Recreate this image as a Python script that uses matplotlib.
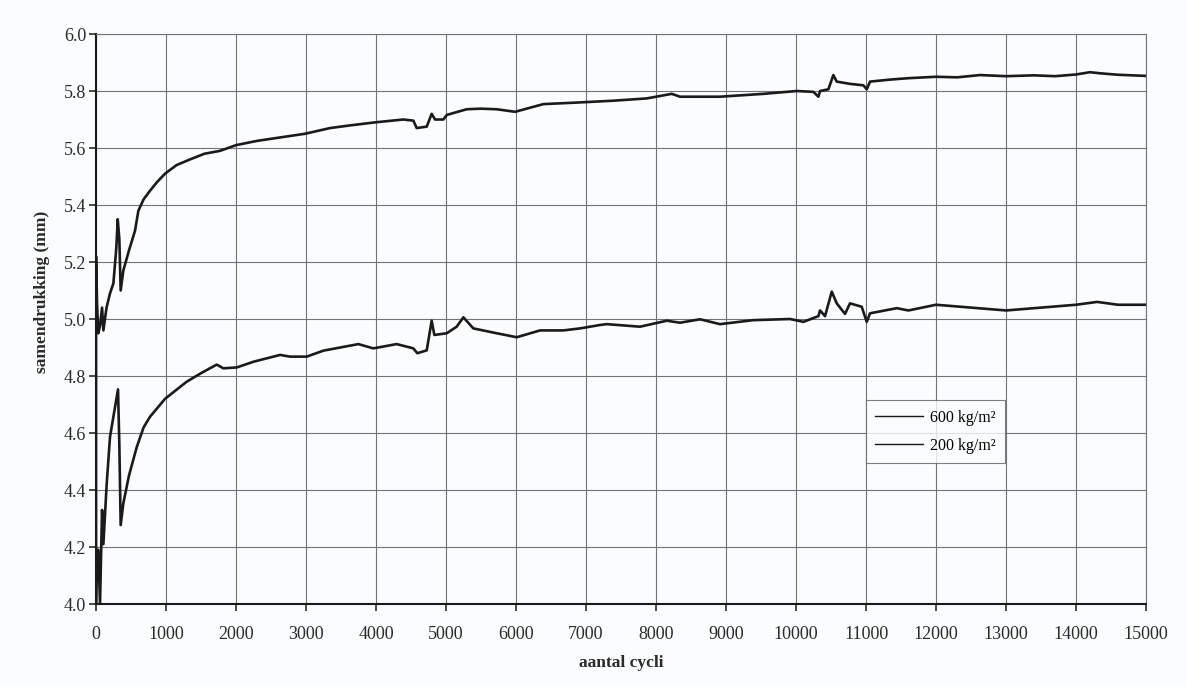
import matplotlib.pyplot as plt

plt.rcParams['font.family'] = ['Liberation Serif', 'DejaVu Serif']

# 600 kg/m2 series
cycles_600 = [0, 0, 15, 33, 60, 86, 105, 150, 200, 248, 290, 310, 333, 352, 390, 470, 557, 605, 680,
              771, 870, 986, 1150, 1343, 1550, 1771, 2000, 2300, 2629, 2986, 3343, 3650, 3986, 4390,
              4533, 4581, 4724, 4795, 4843, 4962, 5010, 5295, 5500, 5724, 5986, 6390, 6914, 7390,
              7867, 8224, 8343, 8914, 9533, 10010, 10248, 10319, 10343, 10462, 10533, 10581, 10771,
              10962, 11010, 11057, 11343, 11605, 12000, 12300, 12629, 13000, 13400, 13700, 14000,
              14200, 14350, 14600, 15000]
samen_600 = [4.00, 5.22, 5.05, 4.95, 4.98, 5.04, 4.96, 5.04, 5.09, 5.125, 5.25, 5.35, 5.28, 5.10,
             5.17, 5.24, 5.31, 5.38, 5.42, 5.45, 5.48, 5.51, 5.54, 5.56, 5.58, 5.59, 5.61, 5.625,
             5.637, 5.65, 5.67, 5.68, 5.69, 5.70, 5.696, 5.67, 5.675, 5.72, 5.70, 5.70, 5.716, 5.736,
             5.738, 5.736, 5.727, 5.754, 5.76, 5.766, 5.774, 5.79, 5.78, 5.78, 5.79, 5.80, 5.797,
             5.78, 5.80, 5.806, 5.856, 5.833, 5.825, 5.82, 5.806, 5.833, 5.84, 5.845, 5.85, 5.848,
             5.856, 5.852, 5.855, 5.852, 5.858, 5.866, 5.862, 5.857, 5.853]

# 200 kg/m2 series
cycles_200 = [0, 20, 33, 57, 86, 105, 152, 200, 248, 314, 333, 352, 390, 470, 581, 680, 771, 986,
              1295, 1500, 1724, 1819, 2010, 2248, 2629, 2771, 3010, 3248, 3748, 3962, 4295, 4533,
              4590, 4724, 4795, 4833, 5010, 5152, 5248, 5390, 5724, 6010, 6343, 6676, 6914, 7200,
              7295, 7771, 8152, 8343, 8629, 8914, 9390, 9914, 10105, 10319, 10343, 10414, 10510,
              10581, 10700, 10771, 10938, 11010, 11057, 11438, 11605, 12000, 12500, 13000, 13500,
              14000, 14300, 14600, 15000]
samen_200 = [4.00, 4.19, 4.19, 4.00, 4.33, 4.21, 4.42, 4.587, 4.657, 4.753, 4.56, 4.277, 4.353,
             4.45, 4.55, 4.62, 4.657, 4.72, 4.78, 4.81, 4.84, 4.827, 4.83, 4.85, 4.874, 4.868,
             4.868, 4.889, 4.912, 4.897, 4.912, 4.897, 4.88, 4.89, 4.994, 4.944, 4.95, 4.973, 5.006,
             4.967, 4.95, 4.936, 4.96, 4.96, 4.967, 4.979, 4.982, 4.973, 4.994, 4.987, 4.999, 4.982,
             4.996, 5.0, 4.99, 5.01, 5.03, 5.01, 5.096, 5.055, 5.018, 5.055, 5.043, 4.99, 5.02, 5.038,
             5.03, 5.05, 5.04, 5.03, 5.04, 5.05, 5.06, 5.05, 5.05]

x_ticks = list(range(0, 15001, 1000))
y_ticks = [4.0, 4.2, 4.4, 4.6, 4.8, 5.0, 5.2, 5.4, 5.6, 5.8, 6.0]

fig = plt.figure(figsize=(11.87, 6.87), dpi=100)
fig.patch.set_facecolor('#fafcfd')
ax = fig.add_axes([0.0809, 0.1208, 0.8846, 0.8297])
ax.set_facecolor('#fafcfd')

ax.plot(cycles_600, samen_600, color='#1a1a1a', lw=1.9, label='600 kg/m²')
ax.plot(cycles_200, samen_200, color='#1a1a1a', lw=1.9, label='200 kg/m²')

ax.set_xlim(0, 15000)
ax.set_ylim(4.0, 6.0)
ax.set_xticks(x_ticks)
ax.set_yticks(y_ticks)
ax.set_yticklabels([f'{v:.1f}' for v in y_ticks])
ax.grid(True, color='#707478', lw=0.8)
ax.set_axisbelow(True)

for s in ['top', 'right']:
    ax.spines[s].set_color('#707478')
    ax.spines[s].set_linewidth(0.8)
for s in ['left', 'bottom']:
    ax.spines[s].set_color('#1a1a1a')
    ax.spines[s].set_linewidth(1.5)

ax.tick_params(axis='both', labelsize=13, colors='#2a2a2a', length=5, width=1.2)
ax.tick_params(axis='x', pad=11)
ax.tick_params(axis='y', pad=2)
ax.set_xlabel('aantal cycli', fontsize=12.5, fontweight='bold', color='#2a2a2a')
ax.set_ylabel('samendrukking (mm)', fontsize=12.5, fontweight='bold', color='#2a2a2a')
ax.xaxis.set_label_coords(0.5, -0.09)
ax.yaxis.set_label_coords(-0.0438, 0.547)

leg = ax.legend(loc='upper left', bbox_to_anchor=(0.733, 0.358), borderaxespad=0,
                fontsize=11.5, frameon=True, fancybox=False, handlelength=3.0,
                handletextpad=0.4, borderpad=0.6, labelspacing=0.75)
leg.get_frame().set_edgecolor('#606060')
leg.get_frame().set_facecolor('#fafcfd')
leg.get_frame().set_linewidth(0.8)
for line in leg.get_lines():
    line.set_linewidth(1.0)

fig.savefig('out.png', dpi=100, facecolor=fig.get_facecolor())
